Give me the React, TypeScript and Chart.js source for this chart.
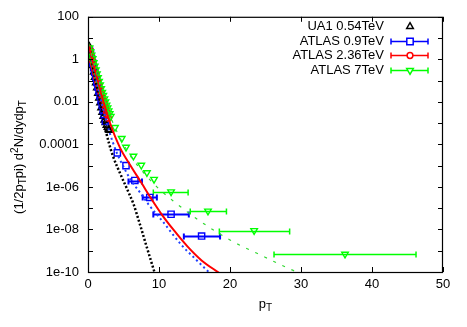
import React, { useEffect, useRef } from 'react';
import { Chart, registerables } from 'chart.js';
Chart.register(...registerables);

// ---------- data ----------
const ua1Pt = [0.2, 0.35, 0.5, 0.65, 0.8, 0.95, 1.1, 1.25, 1.4, 1.55, 1.7, 1.85, 2.0, 2.15, 2.3, 2.45, 2.6, 2.75, 2.9, 3.0];
const ua1Val = [4.0, 2.0, 1.0, 0.5, 0.25, 0.14, 0.079, 0.045, 0.025, 0.015, 0.0089, 0.0052, 0.0032, 0.0021, 0.0014, 0.00105, 0.00079, 0.00063, 0.0005, 0.00045];

const atlas09Pt = [0.2, 0.35, 0.5, 0.65, 0.8, 0.95, 1.1, 1.25, 1.4, 1.55, 1.7, 1.85, 2.0, 2.15, 2.3, 2.45, 4.13, 5.35];
const atlas09Val = [2.8, 1.8, 1.1, 0.66, 0.4, 0.24, 0.14, 0.083, 0.05, 0.032, 0.019, 0.0117, 0.0071, 0.0042, 0.0025, 0.00126, 4.0e-5, 1.0e-5];
const atlas09BinPt = [6.6, 8.7, 11.7, 16.0];
const atlas09BinVal = [2.0e-6, 3.2e-7, 5.2e-8, 4.9e-9];
const atlas09BinLo = [5.7, 7.7, 9.2, 13.5];
const atlas09BinHi = [7.6, 9.7, 14.2, 18.6];

const atlas236Pt = [0.2, 0.35, 0.5, 0.65, 0.8, 0.95, 1.1, 1.25, 1.4, 1.55, 1.7, 1.85, 2.0, 2.15, 2.3, 2.45, 2.6, 2.75, 2.9];
const atlas236Val = [3.2, 2.1, 1.3, 0.83, 0.52, 0.33, 0.21, 0.13, 0.083, 0.054, 0.035, 0.023, 0.016, 0.011, 0.0076, 0.0052, 0.0035, 0.0024, 0.0017];

const atlas7Pt = [0.2, 0.35, 0.5, 0.65, 0.8, 0.95, 1.1, 1.25, 1.4, 1.55, 1.7, 1.85, 2.0, 2.15, 2.3, 2.45, 2.6, 2.75, 2.9, 3.05, 3.2, 3.8, 4.75, 5.35, 6.4, 7.5, 8.3, 9.3];
const atlas7Val = [3.5, 2.3, 1.6, 1.07, 0.71, 0.48, 0.32, 0.21, 0.14, 0.093, 0.063, 0.042, 0.028, 0.02, 0.014, 0.01, 0.0071, 0.0052, 0.0038, 0.0028, 0.0021, 6.3e-4, 1.9e-4, 7.4e-5, 2.8e-5, 1.05e-5, 4.7e-6, 2.3e-6];
const atlas7BinPt = [11.7, 16.9, 23.4, 36.2];
const atlas7BinVal = [5.9e-7, 7.4e-8, 8.9e-9, 6.9e-10];
const atlas7BinLo = [9.2, 14.4, 18.5, 26.2];
const atlas7BinHi = [14.1, 19.5, 28.4, 46.2];

// fit curves
const ua1FitPt = [0.1, 0.5, 1.0, 1.5, 2.0, 2.5, 3.0, 3.57, 4.5, 5.9, 6.4, 7.3, 8.3, 9.45];
const ua1FitVal = [5.6, 1.0, 0.126, 0.02, 0.0028, 4.5e-4, 1.0e-4, 2.5e-5, 4.5e-6, 4.0e-7, 1.6e-7, 1.8e-8, 1.4e-9, 7.9e-11];

const atlas09FitPt = [0.1, 0.5, 1.0, 1.5, 2.0, 2.5, 3.0, 4.0, 5.0, 6.0, 7.3, 8.6, 10.6, 13.2, 15.0, 17.3];
const atlas09FitVal = [4.5, 1.12, 0.2, 0.035, 0.0071, 0.0016, 4.0e-4, 4.5e-5, 8.9e-6, 2.2e-6, 5.6e-7, 1.4e-7, 2.2e-8, 1.8e-9, 4.5e-10, 8.0e-11];

const atlas236FitPt = [0.1, 0.5, 1.0, 1.5, 2.0, 2.5, 3.0, 4.5, 6.0, 7.5, 9.0, 10.5, 12.0, 14.0, 16.0, 18.5];
const atlas236FitVal = [5.0, 1.3, 0.28, 0.071, 0.016, 0.0045, 0.00126, 7.1e-5, 1.0e-5, 1.6e-6, 2.5e-7, 4.5e-8, 1.0e-8, 1.6e-9, 3.5e-10, 8.9e-11];

const atlas7FitPt = [0.1, 0.5, 1.0, 1.5, 2.0, 2.5, 3.0, 4.0, 5.0, 6.0, 7.0, 8.0, 9.7, 12.0, 15.3, 20.0, 23.8, 28.5, 29.8];
const atlas7FitVal = [5.6, 1.6, 0.4, 0.105, 0.028, 0.0089, 0.0028, 4.5e-4, 1.0e-4, 2.8e-5, 1.0e-5, 4.0e-6, 1.0e-6, 2.2e-7, 3.2e-8, 3.2e-9, 7.6e-10, 1.35e-10, 8.9e-11];

const legendLabels = ['UA1 0.54TeV', 'ATLAS 0.9TeV', 'ATLAS 2.36TeV', 'ATLAS 7TeV'];

const xTickValues = [0, 10, 20, 30, 40, 50];
const xTickLabels = ['0', '10', '20', '30', '40', '50'];
const yTickValues = [1e-10, 1e-9, 1e-8, 1e-7, 1e-6, 1e-5, 1e-4, 1e-3, 1e-2, 1e-1, 1, 10, 100];
const yTickLabels = ['1e-10', '', '1e-08', '', '1e-06', '', '0.0001', '', '0.01', '', '1', '', '100'];

// ---------- styling ----------
const FONT_FAMILY = '"Liberation Sans", Arial, Helvetica, sans-serif';
const BLACK = '#000000';
const BLUE = '#0000ff';
const RED = '#ff0000';
const GREEN = '#00ff00';
const BLUE_FIT = '#2040ff';
const GREEN_FIT = '#30d830';

const pts = (xs: number[], ys: number[]) => xs.map((x, i) => ({ x, y: ys[i] }));

function drawMarker(ctx: CanvasRenderingContext2D, kind: string, x: number, y: number, color: string) {
  ctx.save();
  ctx.strokeStyle = color;
  ctx.lineWidth = 1.5;
  ctx.fillStyle = '#ffffff';
  ctx.beginPath();
  if (kind === 'square') {
    ctx.rect(x - 3.2, y - 3.2, 6.4, 6.4);
  } else if (kind === 'circle') {
    ctx.arc(x, y, 2.9, 0, Math.PI * 2);
  } else if (kind === 'tri') {
    const r = 3.8;
    ctx.moveTo(x, y - r);
    ctx.lineTo(x + r * 0.866, y + r / 2);
    ctx.lineTo(x - r * 0.866, y + r / 2);
    ctx.closePath();
  } else if (kind === 'tridown') {
    const r = 3.8;
    ctx.moveTo(x, y + r);
    ctx.lineTo(x + r * 0.866, y - r / 2);
    ctx.lineTo(x - r * 0.866, y - r / 2);
    ctx.closePath();
  }
  ctx.fill();
  ctx.stroke();
  ctx.restore();
}

function drawRich(ctx: CanvasRenderingContext2D, parts: { t: string; s?: number }[], x: number, y: number) {
  const main = `13px ${FONT_FAMILY}`;
  const small = `10px ${FONT_FAMILY}`;
  let w = 0;
  parts.forEach((p) => {
    ctx.font = p.s ? small : main;
    w += ctx.measureText(p.t).width;
  });
  let cx = x - w / 2;
  ctx.textAlign = 'left';
  ctx.textBaseline = 'alphabetic';
  parts.forEach((p) => {
    ctx.font = p.s ? small : main;
    const dy = p.s === 1 ? 3 : p.s === 2 ? -5 : 0;
    ctx.fillText(p.t, cx, y + dy);
    cx += ctx.measureText(p.t).width;
  });
}

const errorBarPlugin = {
  id: 'errorBars',
  beforeDatasetsDraw(chart: any) {
    const { ctx, chartArea: a, scales } = chart;
    const xs = scales.x;
    const ys = scales.y;
    ctx.save();
    ctx.beginPath();
    ctx.rect(a.left, a.top, a.right - a.left, a.bottom - a.top);
    ctx.clip();
    chart.data.datasets.forEach((ds: any) => {
      if (!ds.errLo) return;
      ctx.strokeStyle = ds.borderColor;
      ctx.lineWidth = ds.errWidth || 1.5;
      ds.data.forEach((p: any, i: number) => {
        const y = Math.round(ys.getPixelForValue(p.y)) + 0.5;
        const x1 = xs.getPixelForValue(ds.errLo[i]);
        const x2 = xs.getPixelForValue(ds.errHi[i]);
        ctx.beginPath();
        ctx.moveTo(x1, y);
        ctx.lineTo(x2, y);
        ctx.moveTo(x1, y - 3);
        ctx.lineTo(x1, y + 3);
        ctx.moveTo(x2, y - 3);
        ctx.lineTo(x2, y + 3);
        ctx.stroke();
      });
    });
    ctx.restore();
  },
};

const framePlugin = {
  id: 'frame',
  afterDraw(chart: any) {
    const { ctx, chartArea: a, scales } = chart;
    const xs = scales.x;
    const ys = scales.y;
    ctx.save();
    ctx.strokeStyle = BLACK;
    ctx.lineWidth = 1;
    ctx.beginPath();
    xTickValues.forEach((v) => {
      const px = Math.round(xs.getPixelForValue(v)) + 0.5;
      ctx.moveTo(px, a.bottom);
      ctx.lineTo(px, a.bottom - 5);
      ctx.moveTo(px, a.top);
      ctx.lineTo(px, a.top + 5);
    });
    yTickValues.forEach((v) => {
      const py = Math.round(ys.getPixelForValue(v)) + 0.5;
      ctx.moveTo(a.left, py);
      ctx.lineTo(a.left + 5, py);
      ctx.moveTo(a.right, py);
      ctx.lineTo(a.right - 5, py);
    });
    ctx.stroke();
    ctx.lineWidth = 1.2;
    ctx.strokeRect(a.left + 0.5, a.top + 0.5, a.right - a.left - 1, a.bottom - a.top);

    // axis titles
    ctx.fillStyle = BLACK;
    drawRich(ctx, [{ t: 'p' }, { t: 'T', s: 1 }], (a.left + a.right) / 2, 308);
    ctx.save();
    ctx.translate(23, 157);
    ctx.rotate(-Math.PI / 2);
    drawRich(
      ctx,
      [
        { t: '(1/2p' },
        { t: 'T', s: 1 },
        { t: 'pi) d' },
        { t: '2', s: 2 },
        { t: 'N/dydp' },
        { t: 'T', s: 1 },
      ],
      0,
      0
    );
    ctx.restore();

    // legend
    const kinds = ['tri', 'square', 'circle', 'tridown'];
    const colors = [BLACK, BLUE, RED, GREEN];
    ctx.font = `13px ${FONT_FAMILY}`;
    ctx.textAlign = 'right';
    ctx.textBaseline = 'middle';
    legendLabels.forEach((lab, i) => {
      const y = 26 + i * 14.5;
      ctx.fillStyle = BLACK;
      ctx.fillText(lab, 384, y + 0.5);
      if (i > 0) {
        const yy = Math.round(y) + 0.5;
        ctx.strokeStyle = colors[i];
        ctx.lineWidth = 1.5;
        ctx.beginPath();
        ctx.moveTo(391, yy);
        ctx.lineTo(428, yy);
        ctx.moveTo(391, yy - 3);
        ctx.lineTo(391, yy + 3);
        ctx.moveTo(428, yy - 3);
        ctx.lineTo(428, yy + 3);
        ctx.stroke();
      }
      drawMarker(ctx, kinds[i], 410, Math.round(y) + 0.5, colors[i]);
    });
    ctx.restore();
  },
};

export default function App() {
  const ref = useRef<HTMLCanvasElement>(null);
  useEffect(() => {
    const canvas = ref.current!;
    const fitLine = (data: any, color: string, width: number, dash: number[], order: number) => ({
      type: 'line',
      data,
      borderColor: color,
      backgroundColor: color,
      borderWidth: width,
      borderDash: dash,
      pointRadius: 0,
      showLine: true,
      fill: false,
      cubicInterpolationMode: 'monotone',
      order,
    });
    const markers = (data: any, color: string, style: string, radius: number, rot: number, order: number, extra: any = {}) => ({
      type: 'scatter',
      data,
      borderColor: color,
      backgroundColor: 'rgba(0,0,0,0)',
      pointStyle: style,
      pointRadius: radius,
      pointRotation: rot,
      pointBorderWidth: 1.4,
      showLine: false,
      order,
      ...extra,
    });
    const chart = new Chart(canvas, {
      type: 'scatter',
      data: {
        datasets: [
          markers(pts(ua1Pt, ua1Val), BLACK, 'triangle', 3.8, 0, 40),
          markers(pts(atlas09Pt, atlas09Val), BLUE, 'rect', 4.4, 0, 30),
          markers(pts(atlas09BinPt, atlas09BinVal), BLUE, 'rect', 4.4, 0, 30, {
            errLo: atlas09BinLo,
            errHi: atlas09BinHi,
            errWidth: 2,
          }),
          markers(pts(atlas236Pt, atlas236Val), RED, 'circle', 2.9, 0, 20),
          markers(pts(atlas7Pt, atlas7Val), GREEN, 'triangle', 3.8, 180, 10),
          markers(pts(atlas7BinPt, atlas7BinVal), GREEN, 'triangle', 3.8, 180, 10, {
            errLo: atlas7BinLo,
            errHi: atlas7BinHi,
            errWidth: 1.5,
          }),
          fitLine(pts(ua1FitPt, ua1FitVal), BLACK, 2.5, [2, 2], 5),
          fitLine(pts(atlas09FitPt, atlas09FitVal), BLUE_FIT, 2, [2, 3], 4),
          fitLine(pts(atlas236FitPt, atlas236FitVal), RED, 2, [], 3),
          fitLine(pts(atlas7FitPt, atlas7FitVal), GREEN_FIT, 1.2, [3, 7], 2),
        ] as any,
      },
      options: {
        animation: false,
        responsive: false,
        devicePixelRatio: 1,
        layout: { padding: { top: 15, right: 24, left: 0, bottom: 0 } },
        plugins: { legend: { display: false }, tooltip: { enabled: false }, title: { display: false } },
        scales: {
          x: {
            type: 'linear',
            min: 0,
            max: 50,
            grid: { display: false, drawTicks: false },
            border: { display: false },
            afterBuildTicks: (s: any) => {
              s.ticks = xTickValues.map((v) => ({ value: v }));
            },
            afterFit: (s: any) => {
              s.height = 55;
            },
            ticks: {
              autoSkip: false,
              maxRotation: 0,
              padding: 5,
              color: BLACK,
              font: { family: FONT_FAMILY, size: 13 },
              callback: (_v: any, i: number) => xTickLabels[i],
            },
          },
          y: {
            type: 'logarithmic',
            min: 1e-10,
            max: 100,
            grid: { display: false, drawTicks: false },
            border: { display: false },
            afterBuildTicks: (s: any) => {
              s.ticks = yTickValues.map((v) => ({ value: v }));
            },
            afterFit: (s: any) => {
              s.width = 88;
            },
            ticks: {
              autoSkip: false,
              padding: 9,
              color: BLACK,
              font: { family: FONT_FAMILY, size: 13 },
              callback: (_v: any, i: number) => yTickLabels[i],
            },
          },
        },
      } as any,
      plugins: [errorBarPlugin, framePlugin],
    });
    return () => chart.destroy();
  }, []);
  return (
    <div style={{ position: 'fixed', left: 0, top: 0, width: 467, height: 327, background: '#ffffff' }}>
      <canvas ref={ref} width={467} height={327} style={{ display: 'block' }} />
    </div>
  );
}
